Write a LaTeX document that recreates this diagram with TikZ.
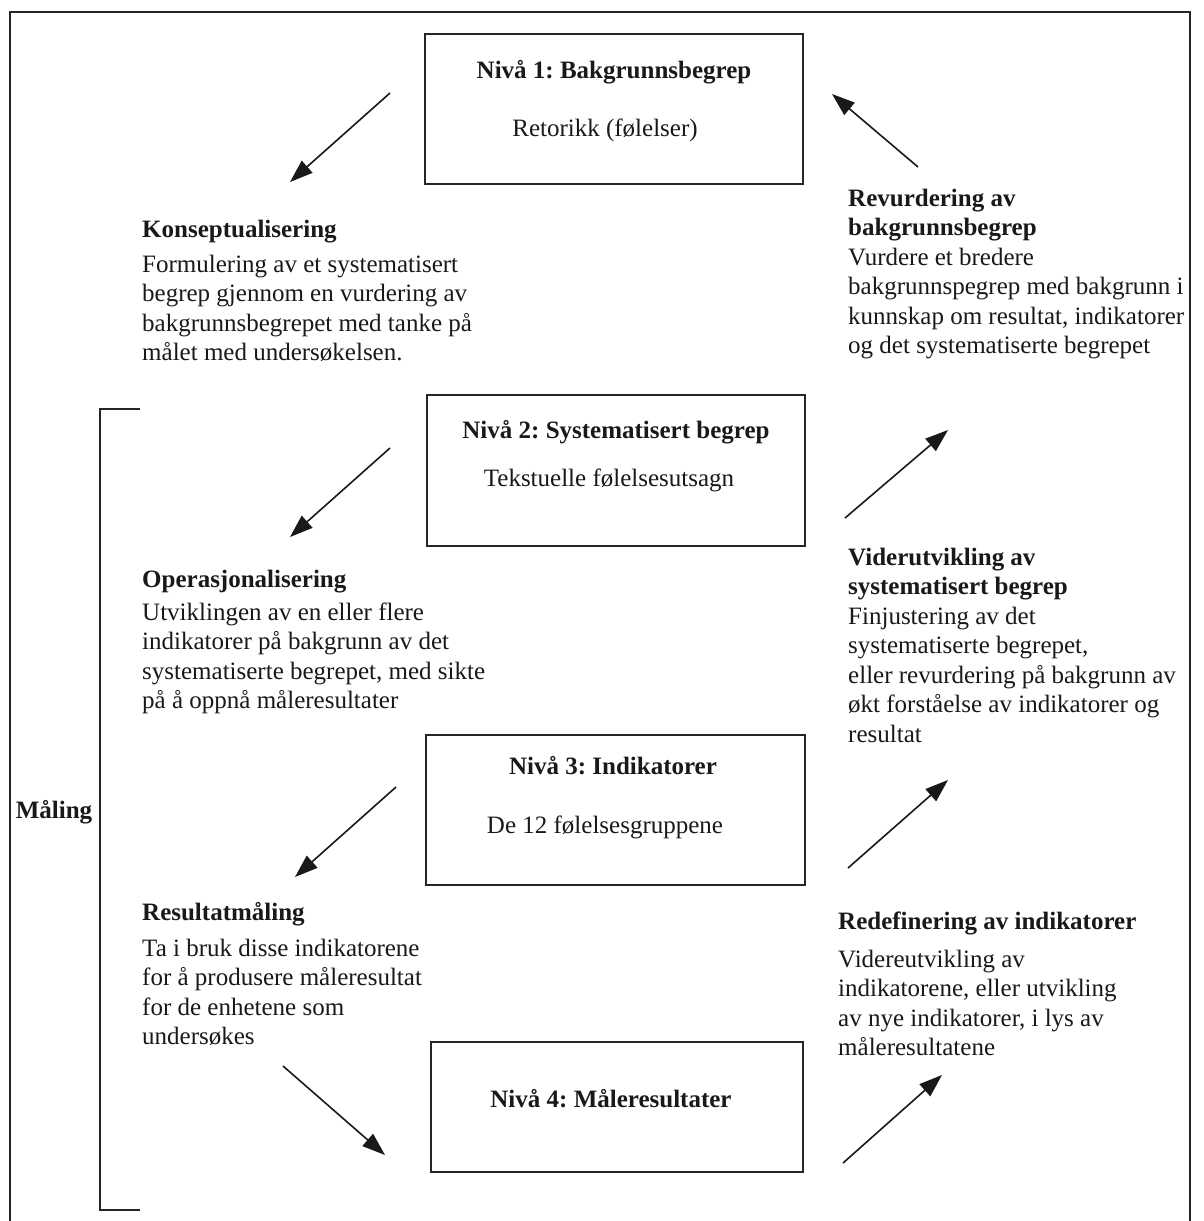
\documentclass[tikz,border=0pt]{standalone}
\usepackage{fontspec}
\setmainfont{Liberation Serif}
\usetikzlibrary{arrows.meta}
\frenchspacing
\begin{document}
\begin{tikzpicture}[x=1pt,y=-1pt,
  every node/.style={font=\fontsize{25}{29.5}\selectfont, inner sep=0pt, text=black!90},
  box/.style={draw=black!85, line width=1.7pt, inner sep=0pt},
  frameline/.style={draw=black!85, line width=1.4pt},
  tl/.style={anchor=base west},
  ctr/.style={anchor=base},
  blk/.style={anchor=north west, align=left, yshift=20.65pt},
  arr/.style={draw=black!90, line width=1.6pt, -{Triangle[length=23pt,width=16pt]}}
]
\useasboundingbox (0,0) rectangle (1203,1221);
\fill[white] (0,0) rectangle (1203,1221);

% outer frame (open at the bottom, cut off)
\draw[frameline] (10,1221) -- (10,12) -- (1190,12) -- (1190,1221);

% level boxes
\node[box, minimum width=378pt, minimum height=150pt] (b1) at (614,109) {};
\node[box, minimum width=378pt, minimum height=151pt] (b2) at (616,470.5) {};
\node[box, minimum width=379pt, minimum height=150pt] (b3) at (615.5,810) {};
\node[box, minimum width=372pt, minimum height=130pt] (b4) at (617,1107) {};

\node[ctr] (t1) at (614,78) {\textbf{Nivå 1: Bakgrunnsbegrep}};
\node[ctr] (s1) at (605,136) {Retorikk (følelser)};
\node[ctr] (t2) at (616,438) {\textbf{Nivå 2: Systematisert begrep}};
\node[ctr] (s2) at (609,486) {Tekstuelle følelsesutsagn};
\node[ctr] (t3) at (613,774) {\textbf{Nivå 3: Indikatorer}};
\node[ctr] (s3) at (605,833) {De 12 følelsesgruppene};
\node[ctr] (t4) at (611,1107) {\textbf{Nivå 4: Måleresultater}};

% measurement bracket
\draw[frameline] (140,409) -- (100,409) -- (100,1210) -- (140,1210);
\node[ctr] (maal) at (54,818) {\textbf{Måling}};

% left column texts
\node[tl] (kt) at (142,237) {\textbf{Konseptualisering}};
\node[blk] (kb) at (142,272) {\rule{0pt}{20.65pt}Formulering av et systematisert\\ begrep gjennom en vurdering av\\ bakgrunnsbegrepet med tanke på\\ målet med undersøkelsen.};

\node[tl] (ot) at (142,587) {\textbf{Operasjonalisering}};
\node[blk] (ob) at (142,620) {\rule{0pt}{20.65pt}Utviklingen av en eller flere\\ indikatorer på bakgrunn av det\\ systematiserte begrepet, med sikte\\ på å oppnå måleresultater};

\node[tl] (rt) at (142,920) {\textbf{Resultatmåling}};
\node[blk] (rb) at (142,956) {\rule{0pt}{20.65pt}Ta i bruk disse indikatorene\\ for å produsere måleresultat\\ for de enhetene som\\ undersøkes};

% right column texts
\node[blk] (rv) at (848,206) {\rule{0pt}{20.65pt}\textbf{Revurdering av}\\ \textbf{bakgrunnsbegrep}\\ Vurdere et bredere\\ bakgrunnspegrep med bakgrunn i\\ kunnskap om resultat, indikatorer\\ og det systematiserte begrepet};

\node[blk] (vu) at (848,565) {\rule{0pt}{20.65pt}\textbf{Viderutvikling av}\\ \textbf{systematisert begrep}\\ Finjustering av det\\ systematiserte begrepet,\\ eller revurdering på bakgrunn av\\ økt forståelse av indikatorer og\\ resultat};

\node[tl] (rdt) at (838,929) {\textbf{Redefinering av indikatorer}};
\node[blk] (rdb) at (838,967) {\rule{0pt}{20.65pt}Videreutvikling av\\ indikatorene, eller utvikling\\ av nye indikatorer, i lys av\\ måleresultatene};

% arrow end points
\coordinate (a1s) at (390,93);   \coordinate (a1e) at (290,182);
\coordinate (a2s) at (390,448);  \coordinate (a2e) at (290,537);
\coordinate (a3s) at (396,787);  \coordinate (a3e) at (295,877);
\coordinate (a4s) at (283,1066); \coordinate (a4e) at (385,1155);
\coordinate (r1s) at (918,167);  \coordinate (r1e) at (832,94);
\coordinate (r2s) at (845,518);  \coordinate (r2e) at (948,430);
\coordinate (r3s) at (848,868);  \coordinate (r3e) at (948,780);
\coordinate (r4s) at (843,1163); \coordinate (r4e) at (942,1075);

\draw[arr] (a1s) -- (a1e);
\draw[arr] (a2s) -- (a2e);
\draw[arr] (a3s) -- (a3e);
\draw[arr] (a4s) -- (a4e);
\draw[arr] (r1s) -- (r1e);
\draw[arr] (r2s) -- (r2e);
\draw[arr] (r3s) -- (r3e);
\draw[arr] (r4s) -- (r4e);
\end{tikzpicture}
\end{document}
